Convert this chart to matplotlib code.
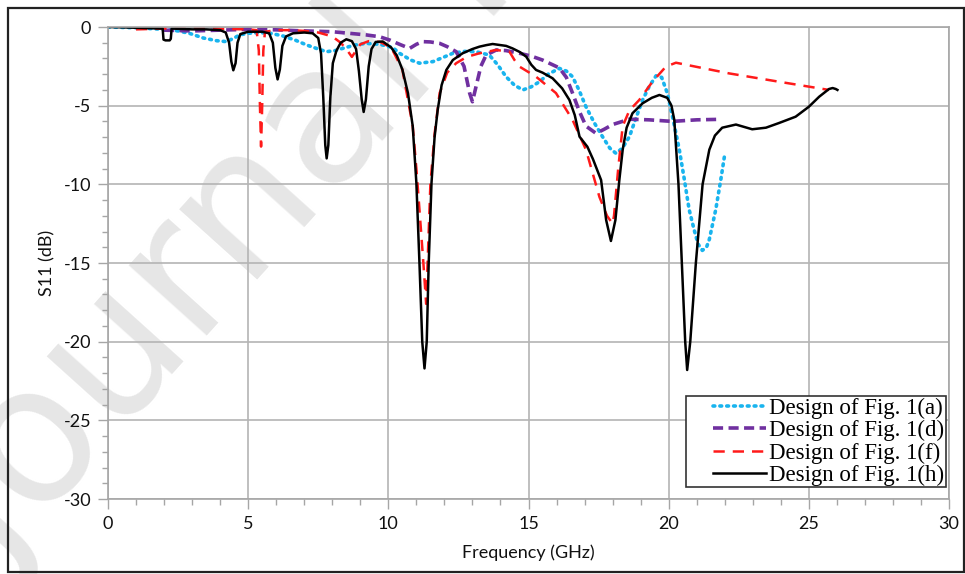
import matplotlib
matplotlib.use("Agg")
import matplotlib.pyplot as plt
from matplotlib.patches import Rectangle
from matplotlib.ticker import MultipleLocator

plt.rcParams["axes.unicode_minus"] = False

# ---------------- data ----------------
freq_a = [0, 1.0, 2.0, 2.5, 2.9, 3.4, 3.87, 4.23, 4.5, 4.7, 5.0, 5.41, 5.8, 6.24, 6.7, 7.08, 7.5,
          7.79, 8.1, 8.37, 8.8, 9.2, 9.69, 10.15, 10.4, 10.8, 11.11, 11.59, 12.0, 12.3, 12.7, 13.13,
          13.6, 13.9, 14.2, 14.5, 14.8, 15.1, 15.39, 15.7, 16.1, 16.35, 16.57, 16.8, 17.05, 17.35,
          17.64, 17.9, 18.12, 18.35, 18.6, 18.85, 19.07, 19.3, 19.55, 19.75, 19.95, 20.15, 20.38,
          20.56, 20.73, 20.91, 21.05, 21.2, 21.35, 21.45, 21.68, 21.86, 22.0]
s11_a = [0, -0.05, -0.15, -0.25, -0.4, -0.7, -0.87, -0.93, -0.7, -0.5, -0.4, -0.36, -0.4, -0.57,
         -0.85, -1.14, -1.4, -1.57, -1.5, -1.36, -1.15, -1.04, -1.1, -1.3, -1.67, -2.1, -2.3, -2.2,
         -1.9, -1.67, -1.55, -1.57, -1.78, -2.4, -3.16, -3.7, -4.0, -3.8, -3.48, -3.0, -2.63, -2.8,
         -3.16, -4.0, -5.07, -6.1, -6.97, -7.7, -8.03, -7.7, -6.97, -5.7, -4.64, -3.8, -3.1, -3.2,
         -4.2, -5.8, -7.8, -9.7, -11.6, -12.9, -13.8, -14.2, -14.0, -13.5, -11.6, -9.7, -8.1]

freq_d = [2.0, 3.0, 4.0, 5.0, 6.0, 6.84, 8.0, 9.2, 9.69, 10.05, 10.4, 10.76, 11.0, 11.22, 11.5,
          11.83, 12.1, 12.42, 12.7, 12.9, 13.0, 13.1, 13.3, 13.49, 13.85, 14.2, 14.68, 15.1, 15.5,
          16.1, 16.35, 16.57, 16.8, 17.05, 17.41, 17.7, 18.0, 18.6, 19.3, 20.13, 21.0, 21.8]
s11_d = [-0.2, -0.25, -0.2, -0.15, -0.18, -0.24, -0.3, -0.5, -0.62, -0.83, -1.1, -1.36, -1.1,
         -0.93, -0.95, -1.04, -1.25, -1.57, -2.5, -4.2, -4.75, -4.0, -2.5, -1.78, -1.46, -1.5,
         -1.67, -1.85, -2.1, -2.6, -3.2, -4.2, -5.3, -6.3, -6.76, -6.5, -6.2, -5.86, -5.9, -6.0,
         -5.9, -5.87]

freq_f = [1.0, 2.0, 3.0, 4.0, 5.0, 5.3, 5.38, 5.42, 5.46, 5.5, 5.54, 5.6, 6.0, 6.5, 7.0, 7.5, 8.0,
          8.3, 8.5, 8.7, 8.85, 9.0, 9.3, 9.7, 10.1, 10.5, 10.87, 11.0, 11.11, 11.25, 11.35, 11.42,
          11.5, 11.65, 11.83, 12.1, 12.42, 12.8, 13.25, 13.85, 14.32, 14.5, 14.68, 15.27, 15.98,
          16.57, 17.05, 17.53, 17.8, 18.0, 18.05, 18.2, 18.36, 18.6, 18.95, 19.42, 19.9, 20.26,
          22.16, 23.94, 25.72]
s11_f = [-0.15, -0.1, -0.1, -0.12, -0.15, -0.2, -1.5, -5.0, -7.6, -5.0, -1.5, -0.3, -0.2, -0.2,
         -0.25, -0.35, -0.6, -1.0, -1.4, -1.9, -1.5, -1.1, -0.9, -0.95, -1.3, -2.7, -6.3, -9.0,
         -11.6, -15.0, -17.6, -14.0, -10.0, -6.8, -4.2, -2.9, -2.3, -1.9, -1.67, -1.46, -1.57,
         -2.1, -2.52, -3.16, -4.2, -5.9, -7.8, -10.8, -12.0, -12.5, -12.0, -9.0, -6.3, -5.3,
         -4.64, -3.48, -2.52, -2.27, -2.95, -3.48, -4.0]

freq_h = [0, 0.5, 1.0, 1.5, 1.95, 1.98, 2.05, 2.2, 2.24, 2.27, 2.6, 3.0, 3.5, 4.0, 4.2, 4.32, 4.4,
          4.47, 4.55, 4.62, 4.72, 5.0, 5.5, 5.75, 5.88, 5.97, 6.05, 6.13, 6.22, 6.35, 6.6, 7.0,
          7.3, 7.5, 7.6, 7.68, 7.75, 7.8, 7.86, 7.93, 8.02, 8.15, 8.3, 8.5, 8.7, 8.85, 8.95, 9.05,
          9.12, 9.2, 9.3, 9.4, 9.55, 9.8, 10.1, 10.3, 10.5, 10.7, 10.87, 11.0, 11.11, 11.21, 11.29,
          11.37, 11.44, 11.54, 11.65, 11.76, 11.9, 12.07, 12.3, 12.65, 13.0, 13.25, 13.5, 13.72,
          14.0, 14.2, 14.43, 14.7, 14.92, 15.1, 15.27, 15.5, 15.86, 16.2, 16.46, 16.65, 16.82,
          17.1, 17.3, 17.59, 17.77, 17.94, 18.1, 18.24, 18.36, 18.5, 18.71, 19.07, 19.4, 19.67,
          19.95, 20.1, 20.2, 20.35, 20.47, 20.59, 20.66, 20.77, 20.97, 21.21, 21.45, 21.65, 21.91,
          22.4, 22.98, 23.47, 23.94, 24.53, 25.0, 25.37, 25.72, 25.85, 25.96, 26.02]
s11_h = [0, -0.02, -0.05, -0.08, -0.1, -0.8, -0.85, -0.85, -0.75, -0.1, -0.12, -0.15, -0.15, -0.2,
         -0.35, -1.0, -2.2, -2.75, -2.3, -1.0, -0.45, -0.3, -0.3, -0.4, -1.0, -2.6, -3.33, -2.7,
         -1.2, -0.6, -0.4, -0.35, -0.4, -0.7, -1.7, -4.5, -7.5, -8.35, -7.5, -4.5, -2.3, -1.5,
         -1.0, -0.78, -0.9, -1.4, -2.8, -4.6, -5.4, -4.6, -2.5, -1.4, -0.95, -0.92, -1.3, -1.8,
         -2.7, -4.2, -6.3, -9.9, -15.0, -20.0, -21.7, -20.0, -15.0, -9.9, -7.0, -5.28, -3.7,
         -2.73, -2.1, -1.67, -1.4, -1.25, -1.15, -1.08, -1.15, -1.2, -1.36, -1.6, -1.89, -2.4,
         -2.73, -2.9, -3.26, -3.9, -4.64, -5.6, -6.97, -7.61, -8.4, -9.73, -12.27, -13.6, -12.27,
         -9.73, -7.8, -6.4, -5.48, -4.85, -4.5, -4.32, -4.5, -5.0, -5.9, -10.0, -15.0, -20.0,
         -21.8, -20.0, -15.0, -10.0, -7.8, -6.9, -6.4, -6.2, -6.5, -6.4, -6.1, -5.7, -5.07,
         -4.43, -3.94, -3.88, -3.94, -4.0]

labels = ["Design of Fig. 1(a)", "Design of Fig. 1(d)", "Design of Fig. 1(f)", "Design of Fig. 1(h)"]
x_ticks = [0, 5, 10, 15, 20, 25, 30]
y_ticks = [0, -5, -10, -15, -20, -25, -30]

# ---------------- figure ----------------
W, H = 965, 574
fig = plt.figure(figsize=(W / 100, H / 100), dpi=100)

# watermark
fig.text(2 / W, 1 - 574 / H, "Journal Pre-proof", fontsize=138, color="#e6e6e6",
         rotation=48, rotation_mode="anchor", ha="left", va="baseline",
         family="DejaVu Sans", zorder=0)

ax = fig.add_axes([108 / W, 1 - 499 / H, (949 - 108) / W, (499 - 27) / H])
ax.patch.set_alpha(0)
ax.set_zorder(2)

ax.plot(freq_a, s11_a, color="#19b4ee", lw=2.6, linestyle=(0, (0.5, 1.4)),
        dash_capstyle="round", label=labels[0])
ax.plot(freq_d, s11_d, color="#7030a0", lw=2.6, linestyle=(0, (2.8, 1.5)), label=labels[1])
ax.plot(freq_f, s11_f, color="#ff1a1a", lw=1.8, linestyle=(0, (4.5, 3.2)), label=labels[2])
ax.plot(freq_h, s11_h, color="#000000", lw=1.8, label=labels[3])

ax.set_xlim(0, 30)
ax.set_ylim(-30, 0)
ax.set_xticks(x_ticks)
ax.set_yticks(y_ticks)
ax.xaxis.set_minor_locator(MultipleLocator(1))
ax.yaxis.set_minor_locator(MultipleLocator(1))
ax.grid(True, which="major", color="#b4b4b4", lw=1.2)
for s in ax.spines.values():
    s.set_color("#a6a6a6")
    s.set_linewidth(1.2)
ax.tick_params(which="major", direction="out", length=7, width=1, color="#a6a6a6",
               labelsize=13, labelcolor="#111111", pad=5)
ax.tick_params(which="minor", direction="out", length=4, width=1, color="#a6a6a6")
for lab in ax.get_xticklabels() + ax.get_yticklabels():
    lab.set_family("Lato")

ax.set_xlabel("Frequency (GHz)", fontsize=13, family="Lato", color="#111111", labelpad=9)
ax.set_ylabel("S11 (dB)", fontsize=13, family="Lato", color="#111111", labelpad=6)

# legend frame (drawn separately to match the wider box of the reference)
ax.add_patch(Rectangle((686 / W, 1 - 487 / H), (946 - 686) / W, (487 - 396) / H,
                       transform=fig.transFigure, facecolor="white", edgecolor="#333333",
                       lw=1.2, zorder=4, clip_on=False))
leg = ax.legend(loc="lower right", bbox_to_anchor=(945.5 / W, 1 - 487 / H),
                bbox_transform=fig.transFigure, borderaxespad=0, frameon=False,
                prop={"family": "Liberation Serif", "size": 16.5},
                handlelength=2.3, handletextpad=0.15, labelspacing=0.05, borderpad=0.05)
leg.set_zorder(5)

# outer chart border
fig.patches.append(Rectangle((8 / W, 1 - 572 / H), 956 / W, 564 / H,
                             transform=fig.transFigure, fill=False, edgecolor="#222222",
                             lw=1.6, zorder=5))

fig.savefig("out.png", dpi=100)
